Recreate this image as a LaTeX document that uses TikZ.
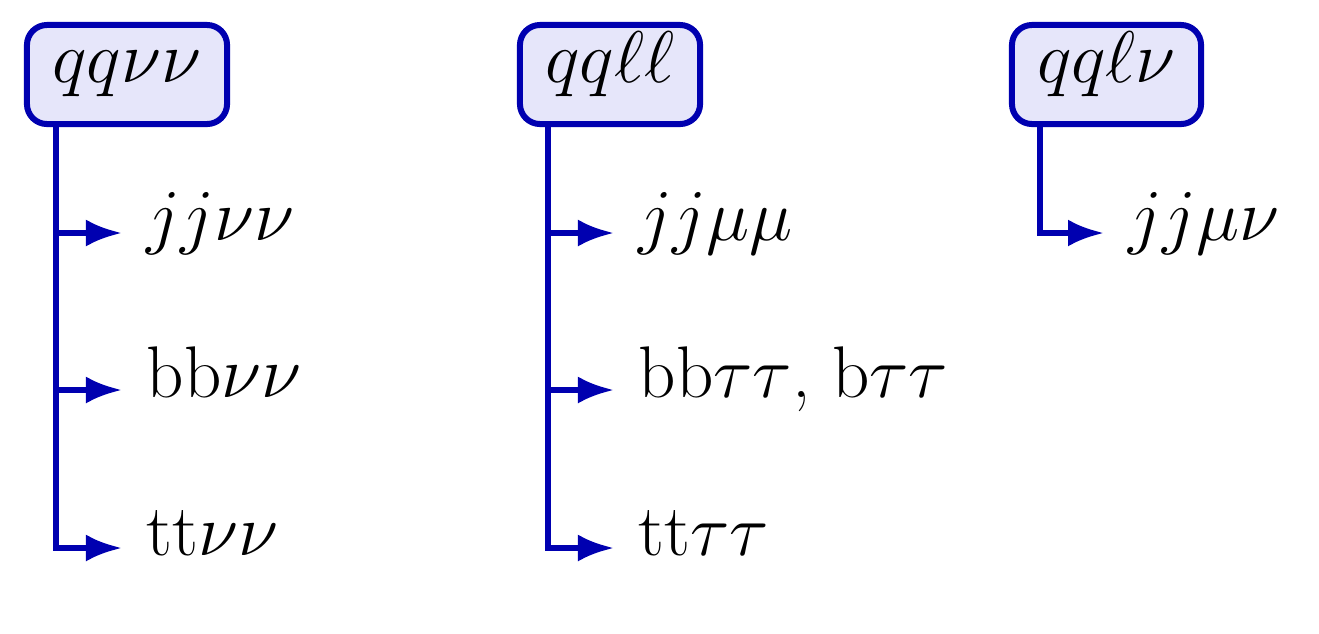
\documentclass[tikz,border=0pt]{standalone}
\usepackage{fix-cm}
\usetikzlibrary{arrows.meta,calc}
\definecolor{lineblue}{RGB}{0,0,176}
\definecolor{boxfill}{RGB}{230,230,250}
\tikzset{
  every node/.style={font=\fontsize{20.8}{25}\selectfont},
  procbox/.style={draw=lineblue, fill=boxfill, line width=0.06cm, rounded corners=0.2cm,
    minimum height=0.99cm, inner xsep=0pt, text height=0.7em, text depth=0.26em},
  child/.style={anchor=west, inner xsep=0.24cm, inner ysep=0pt, text height=0.7em, text depth=0.26em},
  conn/.style={draw=lineblue, line width=0.06cm, -{Latex[length=0.36cm,width=0.27cm]}}
}
\begin{document}
\begin{tikzpicture}[x=0.01cm,y=-0.01cm]
\useasboundingbox (0,0) rectangle (1319,633);
% boxes
\node[procbox, minimum width=2.00cm] (b1) at (127,74.5) {$qq\nu\nu$};
\node[procbox, minimum width=1.80cm] (b2) at (610,74.5) {$qq\ell\ell$};
\node[procbox, minimum width=1.89cm] (b3) at (1106.5,74.5) {$qq\ell\nu$};
% children
\node[child] (c11) at (122,233) {$jj\nu\nu$};
\node[child] (c12) at (122,390) {bb$\nu\nu$};
\node[child] (c13) at (122,548) {tt$\nu\nu$};
\node[child] (c21) at (614,233) {$jj\mu\mu$};
\node[child] (c22) at (614,390) {bb$\tau\tau$, b$\tau\tau$};
\node[child] (c23) at (614,548) {tt$\tau\tau$};
\node[child] (c31) at (1104,233) {$jj\mu\nu$};
% trunk points
\coordinate (v1) at ([xshift=0.32cm]b1.south west);
\coordinate (v2) at ([xshift=0.31cm]b2.south west);
\coordinate (v3) at ([xshift=0.31cm]b3.south west);
% connectors
\draw[conn] (v1) |- (c13.west);
\draw[conn] (v1) |- (c12.west);
\draw[conn] (v1) |- (c11.west);
\draw[conn] (v2) |- (c23.west);
\draw[conn] (v2) |- (c22.west);
\draw[conn] (v2) |- (c21.west);
\draw[conn] (v3) |- (c31.west);
\end{tikzpicture}
\end{document}
